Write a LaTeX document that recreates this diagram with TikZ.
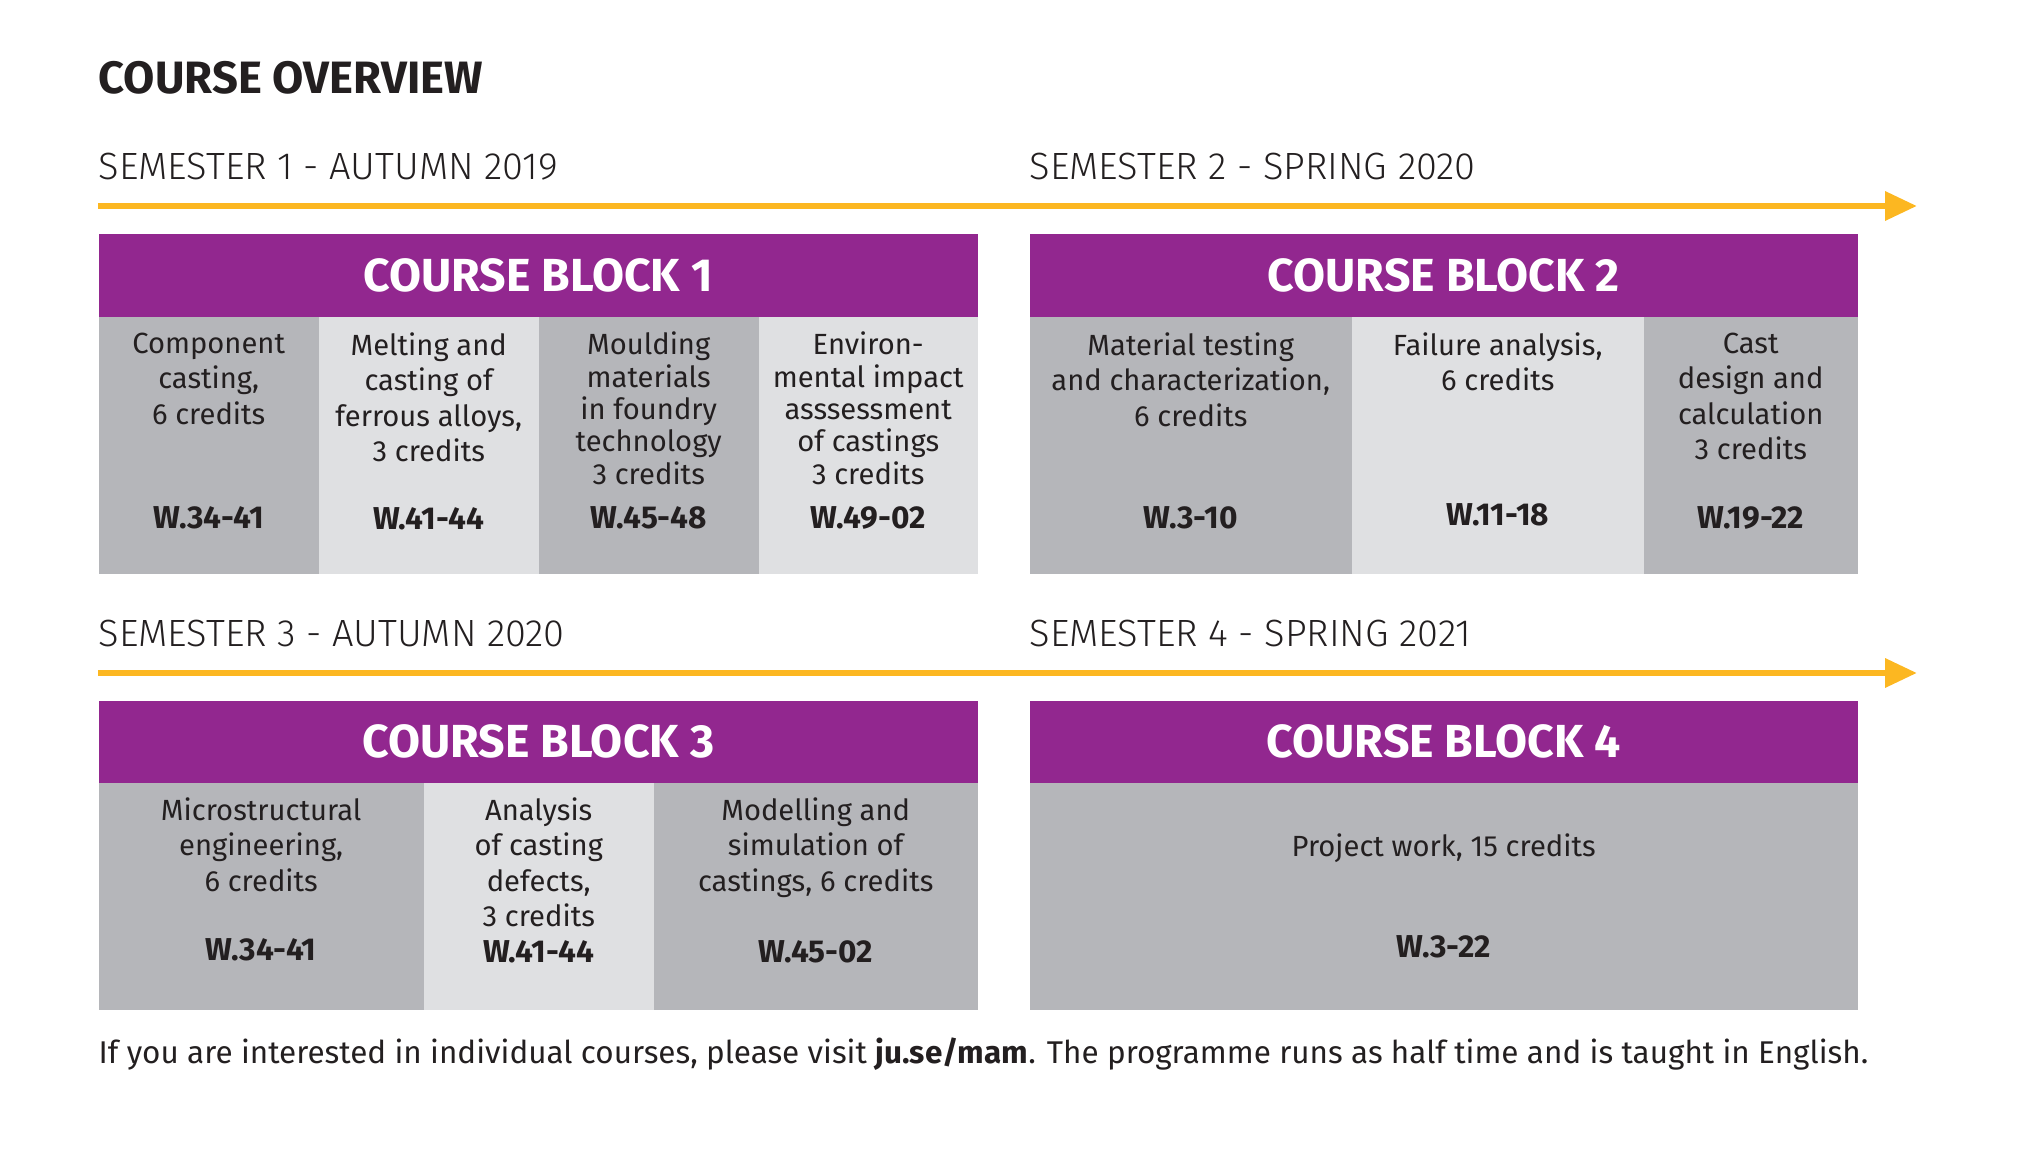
\documentclass[tikz,border=0pt]{standalone}
\usepackage{fontspec}
\setmainfont{Fira Sans}
\newfontfamily\lightfont{Fira Sans Light}
\usetikzlibrary{arrows.meta}
\definecolor{blockpurple}{RGB}{146,39,143}
\definecolor{cellgrey}{RGB}{181,182,186}
\definecolor{celllight}{RGB}{223,224,226}
\definecolor{amber}{RGB}{252,183,33}
\definecolor{ink}{RGB}{35,31,32}
\tikzset{
headbar/.style={fill=blockpurple,inner sep=0pt,anchor=north west,minimum height=0.83cm},
headtext/.style={text=white,inner sep=0pt,font=\fontsize{13.2}{15}\selectfont\bfseries},
cellbox/.style={inner sep=0pt,anchor=north west},
darkcell/.style={cellbox,fill=cellgrey},
lightcell/.style={cellbox,fill=celllight},
celltext/.style={anchor=north,inner sep=0pt,align=center,text=ink,font=\fontsize{8.3}{10.1}\selectfont},
tighttext/.style={celltext,font=\fontsize{8.3}{9.2}\selectfont},
weektext/.style={inner sep=0pt,text=ink,font=\fontsize{9}{10}\selectfont\bfseries},
semlabel/.style={anchor=base west,inner sep=0pt,text=ink,font=\lightfont\fontsize{10.8}{12}\selectfont},
timeline/.style={draw=amber,line width=0.065cm,-{Triangle[length=0.32cm,width=0.28cm]}}
}
\begin{document}
\begin{tikzpicture}
\useasboundingbox (0,0) rectangle (20.29,-11.70);
% title and semester labels
\node[anchor=base west,inner sep=0pt,text=ink,font=\fontsize{12.9}{15}\selectfont\bfseries] (title) at (0.98,-0.94) {COURSE OVERVIEW};
\node[semlabel] (sem1) at (0.98,-1.795) {SEMESTER 1 - AUTUMN 2019};
\node[semlabel] (sem2) at (10.29,-1.795) {SEMESTER 2 - SPRING 2020};
\node[semlabel] (sem3) at (0.98,-6.465) {SEMESTER 3 - AUTUMN 2020};
\node[semlabel] (sem4) at (10.29,-6.465) {SEMESTER 4 - SPRING 2021};
\coordinate (line1s) at (0.98,-2.06);
\coordinate (line1e) at (19.17,-2.06);
\coordinate (line2s) at (0.98,-6.73);
\coordinate (line2e) at (19.17,-6.73);
\draw[timeline] (line1s) -- (line1e);
\draw[timeline] (line2s) -- (line2e);

% course block 1
\node[headbar,minimum width=8.79cm] (head1) at (0.98,-2.33) {};
\node[headtext] at (head1.center) {COURSE BLOCK 1};
\node[darkcell,minimum width=2.20cm,minimum height=2.57cm] (b1c1) at (0.98,-3.16) {};
\node[lightcell,minimum width=2.20cm,minimum height=2.57cm] (b1c2) at (3.18,-3.16) {};
\node[darkcell,minimum width=2.20cm,minimum height=2.57cm] (b1c3) at (5.38,-3.16) {};
\node[lightcell,minimum width=2.19cm,minimum height=2.57cm] (b1c4) at (7.58,-3.16) {};
\node[celltext] at ([yshift=-0.16cm]b1c1.north) {Component\\casting,\\6 credits};
\node[celltext] at ([yshift=-0.16cm]b1c2.north) {Melting and\\casting of\\ferrous alloys,\\3 credits};
\node[tighttext] at ([yshift=-0.155cm]b1c3.north) {Moulding\\materials\\in foundry\\technology\\3 credits};
\node[tighttext] at ([yshift=-0.155cm]b1c4.north) {Environ-\\mental impact\\asssessment\\of castings\\3 credits};
\node[weektext] at ([yshift=-2.02cm]b1c1.north) {W.34-41};
\node[weektext] at ([yshift=-2.03cm]b1c2.north) {W.41-44};
\node[weektext] at ([yshift=-2.02cm]b1c3.north) {W.45-48};
\node[weektext] at ([yshift=-2.02cm]b1c4.north) {W.49-02};

% course block 2
\node[headbar,minimum width=8.28cm] (head2) at (10.29,-2.33) {};
\node[headtext] at (head2.center) {COURSE BLOCK 2};
\node[darkcell,minimum width=3.22cm,minimum height=2.57cm] (b2c1) at (10.29,-3.16) {};
\node[lightcell,minimum width=2.92cm,minimum height=2.57cm] (b2c2) at (13.51,-3.16) {};
\node[darkcell,minimum width=2.14cm,minimum height=2.57cm] (b2c3) at (16.43,-3.16) {};
\node[celltext] at ([yshift=-0.16cm]b2c1.north) {Material testing\\and characterization,\\6 credits};
\node[celltext] at ([yshift=-0.16cm]b2c2.north) {Failure analysis,\\6 credits};
\node[celltext] at ([yshift=-0.16cm]b2c3.north) {Cast\\design and\\calculation\\3 credits};
\node[weektext] at ([yshift=-2.02cm]b2c1.north) {W.3-10};
\node[weektext] at ([yshift=-1.99cm]b2c2.north) {W.11-18};
\node[weektext] at ([yshift=-2.02cm]b2c3.north) {W.19-22};

% course block 3
\node[headbar,minimum width=8.79cm,minimum height=0.82cm] (head3) at (0.98,-7.00) {};
\node[headtext] at (head3.center) {COURSE BLOCK 3};
\node[darkcell,minimum width=3.25cm,minimum height=2.27cm] (b3c1) at (0.98,-7.82) {};
\node[lightcell,minimum width=2.30cm,minimum height=2.27cm] (b3c2) at (4.23,-7.82) {};
\node[darkcell,minimum width=3.24cm,minimum height=2.27cm] (b3c3) at (6.53,-7.82) {};
\node[celltext] at ([yshift=-0.15cm]b3c1.north) {Microstructural\\engineering,\\6 credits};
\node[celltext] at ([yshift=-0.15cm]b3c2.north) {Analysis\\of casting\\defects,\\3 credits};
\node[celltext] at ([yshift=-0.15cm]b3c3.north) {Modelling and\\simulation of\\castings, 6 credits};
\node[weektext] at ([yshift=-1.68cm]b3c1.north) {W.34-41};
\node[weektext] at ([yshift=-1.70cm]b3c2.north) {W.41-44};
\node[weektext] at ([yshift=-1.70cm]b3c3.north) {W.45-02};

% course block 4
\node[headbar,minimum width=8.28cm,minimum height=0.82cm] (head4) at (10.29,-7.00) {};
\node[headtext] at (head4.center) {COURSE BLOCK 4};
\node[darkcell,minimum width=8.28cm,minimum height=2.27cm] (b4c1) at (10.29,-7.82) {};
\node[celltext] at ([yshift=-0.51cm]b4c1.north) {Project work, 15 credits};
\node[weektext] at ([yshift=-1.65cm]b4c1.north) {W.3-22};

% footer
\node[anchor=base west,inner sep=0pt,text=ink,font=\fontsize{8.95}{11}\selectfont] (note) at (0.98,-10.63) {If you are interested in individual courses, please visit \textbf{ju.se/mam}. The programme runs as half time and is taught in English.};
\end{tikzpicture}
\end{document}
